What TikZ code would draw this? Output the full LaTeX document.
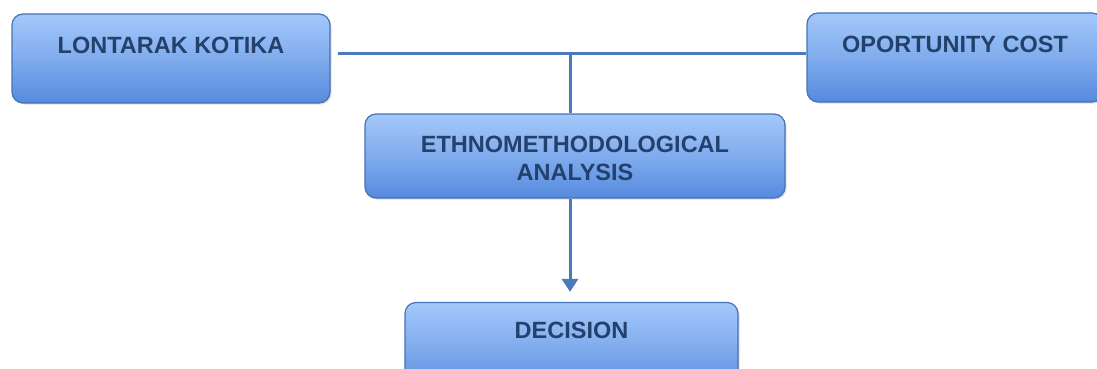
\documentclass[tikz,border=0pt]{standalone}
\usepackage{fontspec}
\setmainfont{Liberation Sans}
\usetikzlibrary{arrows.meta,shadows}
\definecolor{boxtop}{RGB}{163,200,250}
\definecolor{boxbot}{RGB}{86,138,222}
\definecolor{boxline}{RGB}{70,114,182}
\definecolor{txt}{RGB}{36,64,108}
\definecolor{conn}{RGB}{74,122,188}
\tikzset{
  flowbox/.style={draw=boxline, line width=1.2pt, rounded corners=11pt,
    top color=boxtop, bottom color=boxbot, middle color=boxtop!55!boxbot,
    drop shadow={shadow xshift=1.5pt, shadow yshift=-1.5pt, opacity=0.25},
    text=txt, font=\fontsize{23.5}{28}\selectfont\bfseries, inner sep=0pt, align=center},
  link/.style={draw=conn, line width=3pt}
}
\begin{document}
\begin{tikzpicture}[x=1pt,y=-1pt]
\useasboundingbox (0,0) rectangle (1097,369);
\clip (0,0) rectangle (1097,369);
\node[flowbox, minimum width=318pt, minimum height=89pt, text depth=27pt] (lk) at (171,58.5) {LONTARAK KOTIKA};
\node[flowbox, minimum width=296pt, minimum height=89pt, text depth=26pt] (oc) at (955,57.5) {OPORTUNITY COST};
\node[flowbox, minimum width=420pt, minimum height=84pt, text height=49pt, text depth=0pt] (ea) at (575,156) {ETHNOMETHODOLOGICAL\\ANALYSIS};
\node[flowbox, minimum width=333pt, minimum height=89pt, text depth=34pt] (dec) at (571.5,347) {DECISION};
\coordinate (hl) at (338,53.5);
\coordinate (j) at (570,53.5);
\draw[link] (hl) -- (oc.west |- hl);
\draw[link] (j) -- (j |- ea.north);
\draw[link, -{Triangle[width=16pt,length=13pt]}, shorten >=10pt] (j |- ea.south) -- (j |- dec.north);
\end{tikzpicture}
\end{document}
